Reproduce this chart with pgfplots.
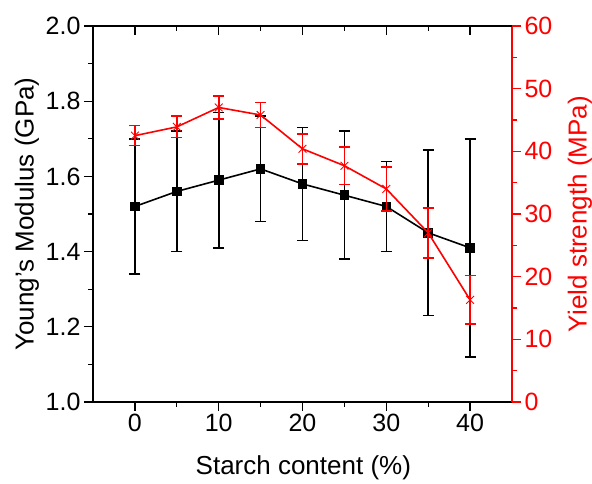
\documentclass[border=0pt]{standalone}
\usepackage{pgfplots}
\pgfplotsset{compat=1.18}
\usepackage{fontspec}
\setmainfont{Liberation Sans}
\begin{document}
\begin{tikzpicture}
\pgfplotsset{
 common/.style={scale only axis, width=419pt, height=376pt, xmin=-5, xmax=45,
  /pgf/number format/assume math mode=true,
  tick label style={font=\fontsize{25}{28}\selectfont},
  label style={font=\fontsize{26}{30}\selectfont},
  major tick length=9pt, minor tick length=5pt,
  every tick/.style={line width=1.3pt},
  axis line style={line width=1.7pt},
  xtick={0,10,20,30,40}, minor xtick={5,15,25,35},
 }
}
\begin{axis}[common, name=ax, axis x line*=bottom, axis y line*=left, tick align=outside,
 ymin=1.0, ymax=2.0, ytick={1.0,1.2,1.4,1.6,1.8,2.0}, minor ytick={1.1,1.3,1.5,1.7,1.9},
 yticklabel style={/pgf/number format/.cd, fixed, fixed zerofill, precision=1},
 xlabel={Starch content (\%)}, ylabel={Young{\char"27}s Modulus (GPa)},
 xlabel style={at={(axis description cs:0.502,-0.174)}, anchor=center},
 ylabel style={at={(axis description cs:-0.1575,0.5)}, anchor=center},
 ]
\addplot[black, line width=1.6pt, mark=square*, mark size=4pt,
 error bars/.cd, y dir=both, y explicit,
 error bar style={line width=1.6pt, black},
 error mark options={rotate=90, line width=1.6pt, mark size=5.5pt, black}]
 coordinates {
 (0,1.52) +- (0,0.18)
 (5,1.56) +- (0,0.16)
 (10,1.59) +- (0,0.18)
 (15,1.62) +- (0,0.14)
 (20,1.58) +- (0,0.15)
 (25,1.55) +- (0,0.17)
 (30,1.52) +- (0,0.12)
 (35,1.45) +- (0,0.22)
 (40,1.41) +- (0,0.29)
 };
\end{axis}
\begin{axis}[common, axis x line=none, axis y line*=right, tick align=outside,
 ymin=0, ymax=60, ytick={0,10,20,30,40,50,60}, minor ytick={5,15,25,35,45,55},
 y axis line style={red}, y tick style={red}, minor y tick style={red},
 yticklabel style={red}, ylabel style={red, at={(axis description cs:1.162,0.5)}, anchor=center},
 ylabel={Yield strength (MPa)},
 ]
\addplot[red, line width=1.6pt, mark=x, mark size=5.5pt, mark options={line width=0.9pt},
 error bars/.cd, y dir=both, y explicit,
 error bar style={line width=1.6pt, red},
 error mark options={rotate=90, line width=1.6pt, mark size=5.5pt, red}]
 coordinates {
 (0,42.5) +- (0,1.6)
 (5,43.9) +- (0,1.7)
 (10,47.0) +- (0,1.8)
 (15,45.8) +- (0,2.0)
 (20,40.4) +- (0,2.4)
 (25,37.7) +- (0,3.0)
 (30,34.0) +- (0,3.5)
 (35,27.0) +- (0,4.0)
 (40,16.3) +- (0,3.9)
 };
\end{axis}
\begin{axis}[common, axis x line*=top, axis y line=none, tick align=inside,
 ymin=0, ymax=1, xticklabels={}]
\end{axis}
\pgfresetboundingbox
\path ([xshift=-93pt,yshift=-82pt]ax.south west) rectangle ([xshift=80pt,yshift=26pt]ax.north east);
\end{tikzpicture}
\end{document}
